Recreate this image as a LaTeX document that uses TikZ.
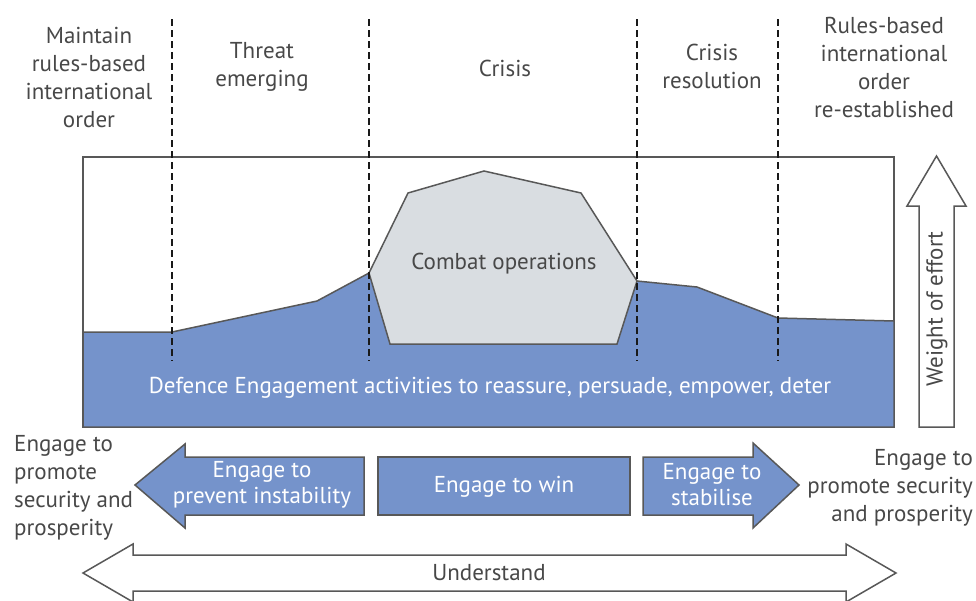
\documentclass[tikz,border=0pt]{standalone}
\usepackage{fontspec}
\setmainfont{PT Sans}

\definecolor{effortblue}{RGB}{117,147,203}
\definecolor{combatgrey}{RGB}{217,221,225}
\definecolor{edgegrey}{RGB}{88,88,88}
\definecolor{labelgrey}{RGB}{72,72,72}

\begin{document}
\begin{tikzpicture}[x=1pt, y=-1pt]
        % Styles
        \tikzstyle{phase} = [text=labelgrey, align=center, inner sep=0pt, font=\fontsize{23}{28}\selectfont]
        \tikzstyle{divider} = [dash pattern=on 7pt off 4pt, line width=2.3pt, black!90]
        \tikzstyle{outline} = [draw=edgegrey, line width=1.5pt, line join=miter]
        \tikzstyle{bluebox} = [outline, fill=effortblue]
        \tikzstyle{boxtext} = [text=white, align=center, inner sep=0pt, font=\fontsize{23}{26}\selectfont]

        \useasboundingbox (0,0) rectangle (976,600);

        % --- Phase titles ---
        \node [phase] (maintain) at (89,77) {Maintain\\rules-based\\international\\order};
        \node [phase] (threat) at (262,67) {Threat\\emerging};
        \node [phase] (crisis) at (505,68) {Crisis};
        \node [phase] (resolution) at (712,66) {Crisis\\resolution};
        \node [phase] (restored) at (884,67) {Rules-based\\international\\order\\re-established};

        % --- Effort panel ---
        \draw [outline, fill=white] (83,157) rectangle (894,427);

        % Defence Engagement level
        \draw [bluebox] (83,332) -- (172,332) -- (317,301) -- (369,273) -- (637,281)
                -- (697,287) -- (778,318) -- (894,321) -- (894,427) -- (83,427) -- cycle;

        % Combat operations
        \draw [outline, fill=combatgrey] (369,273) -- (408,193) -- (484,171) -- (581,193)
                -- (637,281) -- (617,344) -- (390,344) -- cycle;
        \node [phase] (combat) at (504,264) {Combat operations};
        \node [boxtext] (engagement) at (490,388) {Defence Engagement activities to reassure, persuade, empower, deter};

        % Phase dividers
        \foreach \x in {172,369,637,778}
                \draw [divider] (\x,19) -- (\x,361);

        % --- Weight of effort ---
        \draw [outline, fill=white] (919,427) -- (919,206) -- (907,206) -- (936.5,156)
                -- (966,206) -- (954,206) -- (954,427) -- cycle;
        \node [phase, rotate=90] (weight) at (937,309) {Weight of effort};

        % --- Engagement arrows ---
        \draw [bluebox] (135,485) -- (185,444) -- (185,457) -- (364,457) -- (364,515)
                -- (185,515) -- (185,528) -- cycle;
        \node [boxtext] (prevent) at (262,485) {Engage to\\prevent instability};

        \draw [bluebox] (378,457) rectangle (630,515);
        \node [boxtext] (win) at (504,487) {Engage to win};

        \draw [bluebox] (643,457) -- (753,457) -- (753,443) -- (799,485) -- (753,528)
                -- (753,515) -- (643,515) -- cycle;
        \node [boxtext] (stabilise) at (712,485) {Engage to\\stabilise};

        % Side texts
        \node [phase, align=left, anchor=west] (promote_l) at (14,488) {Engage to\\promote\\security and\\prosperity};
        \node [phase, align=right, anchor=east] (promote_r) at (973,488) {Engage to\\promote security\\and prosperity};

        % --- Understand ---
        \draw [outline, fill=white] (83,573) -- (133,544) -- (133,555) -- (846,555) -- (846,544)
                -- (896,573) -- (846,602) -- (846,591) -- (133,591) -- (133,602) -- cycle;
        \node [phase] (understand) at (489,573) {Understand};

\end{tikzpicture}
\end{document}
